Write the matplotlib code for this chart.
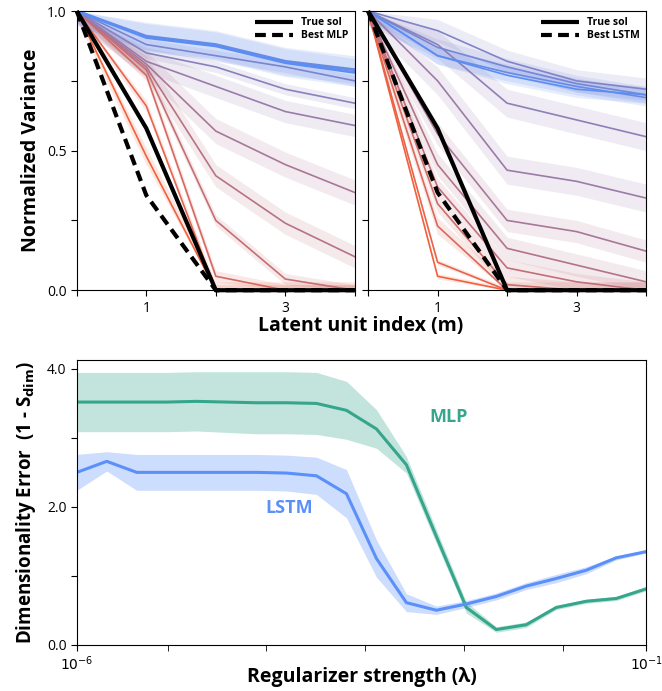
import numpy as np
import matplotlib
matplotlib.use("Agg")
import matplotlib.pyplot as plt
from matplotlib.colors import to_rgb

plt.rcParams['font.family'] = ['Open Sans', 'DejaVu Sans']

# latent unit index
m_idx = [0, 1, 2, 3, 4]

# MLP panel: normalized variance curves (red -> blue) and their spread
mlp_curves = [
    [1.0, 0.48, 0.00, 0.00, 0.00],
    [1.0, 0.66, 0.00, 0.00, 0.00],
    [1.0, 0.77, 0.05, 0.00, 0.00],
    [1.0, 0.79, 0.25, 0.04, 0.00],
    [1.0, 0.80, 0.41, 0.24, 0.12],
    [1.0, 0.81, 0.57, 0.45, 0.35],
    [1.0, 0.82, 0.73, 0.64, 0.59],
    [1.0, 0.85, 0.80, 0.72, 0.67],
    [1.0, 0.88, 0.84, 0.80, 0.75],
    [1.0, 0.91, 0.88, 0.82, 0.79],
    [1.0, 0.905, 0.875, 0.815, 0.78],
]
mlp_spread = [0.03, 0.02, 0.02, 0.02, 0.04, 0.045, 0.04, 0.02, 0.02, 0.05, 0.05]
mlp_true = [1.0, 0.58, 0.0, 0.0, 0.0]
mlp_best = [1.0, 0.34, 0.0, 0.0, 0.0]

# LSTM panel
lstm_curves = [
    [1.0, 0.05, 0.00, 0.00, 0.00],
    [1.0, 0.10, 0.00, 0.00, 0.00],
    [1.0, 0.23, 0.00, 0.00, 0.00],
    [1.0, 0.31, 0.02, 0.00, 0.00],
    [1.0, 0.37, 0.08, 0.03, 0.00],
    [1.0, 0.45, 0.15, 0.09, 0.03],
    [1.0, 0.56, 0.25, 0.21, 0.14],
    [1.0, 0.75, 0.43, 0.39, 0.33],
    [1.0, 0.88, 0.67, 0.61, 0.55],
    [1.0, 0.93, 0.82, 0.75, 0.72],
    [1.0, 0.87, 0.80, 0.74, 0.70],
    [1.0, 0.84, 0.78, 0.73, 0.69],
    [1.0, 0.84, 0.77, 0.72, 0.70],
]
lstm_spread = [0.01, 0.01, 0.03, 0.03, 0.03, 0.04, 0.04, 0.05, 0.05, 0.04, 0.03, 0.03, 0.03]
lstm_true = [1.0, 0.58, 0.0, 0.0, 0.0]
lstm_best = [1.0, 0.35, 0.0, 0.0, 0.0]

# regularizer sweep
lam = np.logspace(-6, -1, 20)
mlp_err = [3.52, 3.52, 3.52, 3.52, 3.53, 3.52, 3.51, 3.51, 3.50, 3.40,
           3.13, 2.61, 1.57, 0.54, 0.22, 0.29, 0.54, 0.63, 0.67, 0.81]
mlp_err_sd = [0.43, 0.43, 0.43, 0.43, 0.43, 0.44, 0.45, 0.45, 0.45, 0.42,
              0.28, 0.12, 0.10, 0.08, 0.04, 0.04, 0.03, 0.03, 0.03, 0.03]
lstm_err = [2.50, 2.66, 2.50, 2.50, 2.50, 2.50, 2.50, 2.49, 2.45, 2.19,
            1.25, 0.61, 0.50, 0.59, 0.70, 0.85, 0.96, 1.08, 1.26, 1.35]
lstm_err_sd = [0.26, 0.14, 0.26, 0.26, 0.26, 0.26, 0.26, 0.26, 0.27, 0.35,
               0.27, 0.13, 0.06, 0.05, 0.05, 0.05, 0.06, 0.05, 0.03, 0.02]

RED = np.array(to_rgb('#f4603c'))
BLUE = np.array(to_rgb('#5b8ef5'))
GREEN = '#35a68c'
LBLUE = '#5b8ff9'


def grad(f):
    return tuple(RED * (1 - f) + BLUE * f)


def variance_panel(ax, curves, spread, true_sol, best, best_label, show_y):
    n = len(curves)
    for i, (c, s) in enumerate(zip(curves, spread)):
        col = grad(i / (n - 1))
        c = np.array(c)
        ax.fill_between(m_idx, np.clip(c - s, 0, 1), np.clip(c + s, 0, 1),
                        color=col, alpha=0.15, lw=0)
    for i, c in enumerate(curves):
        col = grad(i / (n - 1))
        lw = 2.0 if i >= n - 2 and n == 11 else 1.2
        ax.plot(m_idx, c, color=col, lw=lw)
    ax.plot(m_idx, true_sol, color='k', lw=3, solid_capstyle='butt',
            label='True sol', clip_on=False, zorder=5)
    ax.plot(m_idx, best, color='k', lw=3, ls=(0, (2.6, 1.5)),
            label=best_label, clip_on=False, zorder=5)
    ax.set_xlim(0, 4)
    ax.set_ylim(0, 1)
    ax.set_xticks(m_idx)
    ax.set_xticklabels(['', '1', '', '3', ''])
    ax.set_yticks([0, 0.25, 0.5, 0.75, 1.0])
    if show_y:
        ax.set_yticklabels(['0.0', '', '0.5', '', '1.0'])
        ax.set_ylabel('Normalized Variance', fontsize=14, fontweight='bold', labelpad=4)
    else:
        ax.set_yticklabels([])
    ax.tick_params(direction='out', length=4, labelsize=10)
    leg = ax.legend(loc='upper right', frameon=False, fontsize=7.5, handlelength=3.6,
                    borderaxespad=0.2, labelspacing=0.2)
    for t in leg.get_texts():
        t.set_fontweight('bold')


fig = plt.figure(figsize=(6.62, 6.91), dpi=100)
ax1 = fig.add_axes([0.116, 0.580, 0.420, 0.404])
ax2 = fig.add_axes([0.556, 0.580, 0.420, 0.404])
ax3 = fig.add_axes([0.116, 0.067, 0.860, 0.412])

variance_panel(ax1, mlp_curves, mlp_spread, mlp_true, mlp_best, 'Best MLP', True)
variance_panel(ax2, lstm_curves, lstm_spread, lstm_true, lstm_best, 'Best LSTM', False)
fig.text(0.545, 0.528, 'Latent unit index (m)', ha='center', va='center',
         fontsize=14, fontweight='bold')

# bottom panel
me, ms = np.array(mlp_err), np.array(mlp_err_sd)
le, ls_ = np.array(lstm_err), np.array(lstm_err_sd)
ax3.fill_between(lam, me - ms, me + ms, color=GREEN, alpha=0.3, lw=0)
ax3.fill_between(lam, le - ls_, le + ls_, color=LBLUE, alpha=0.3, lw=0)
ax3.plot(lam, me, color=GREEN, lw=2.2)
ax3.plot(lam, le, color=LBLUE, lw=2.2)
ax3.set_xscale('log')
ax3.set_xlim(1e-6, 1e-1)
ax3.set_ylim(0, 4.13)
ax3.set_xticks([1e-6, 1e-1])
ax3.set_xticklabels(['$10^{-6}$', '$10^{-1}$'])
ax3.set_xticks([10 ** (-6 + 5 * f) for f in [0.16, 0.333, 0.506, 0.68, 0.854]], minor=True)
ax3.tick_params(axis='x', which='minor', length=4, labelbottom=False)
ax3.set_yticks([0, 1, 2, 3, 4])
ax3.set_yticklabels(['0.0', '', '2.0', '', '4.0'])
ax3.tick_params(direction='out', length=4, labelsize=10)
ax3.set_xlabel('Regularizer strength (λ)', fontsize=14, fontweight='bold')
ax3.xaxis.set_label_coords(0.5, -0.078)
ax3.set_ylabel(r'Dimensionality Error  (1 - S$_{\mathbf{dim}}$)', fontsize=13.5,
               fontweight='bold', labelpad=6)
ax3.text(0.653, 0.80, 'MLP', transform=ax3.transAxes, color=GREEN,
         fontsize=13, fontweight='bold', ha='center', va='center')
ax3.text(0.373, 0.48, 'LSTM', transform=ax3.transAxes, color=LBLUE,
         fontsize=13, fontweight='bold', ha='center', va='center')

fig.savefig('out.png', dpi=100)
